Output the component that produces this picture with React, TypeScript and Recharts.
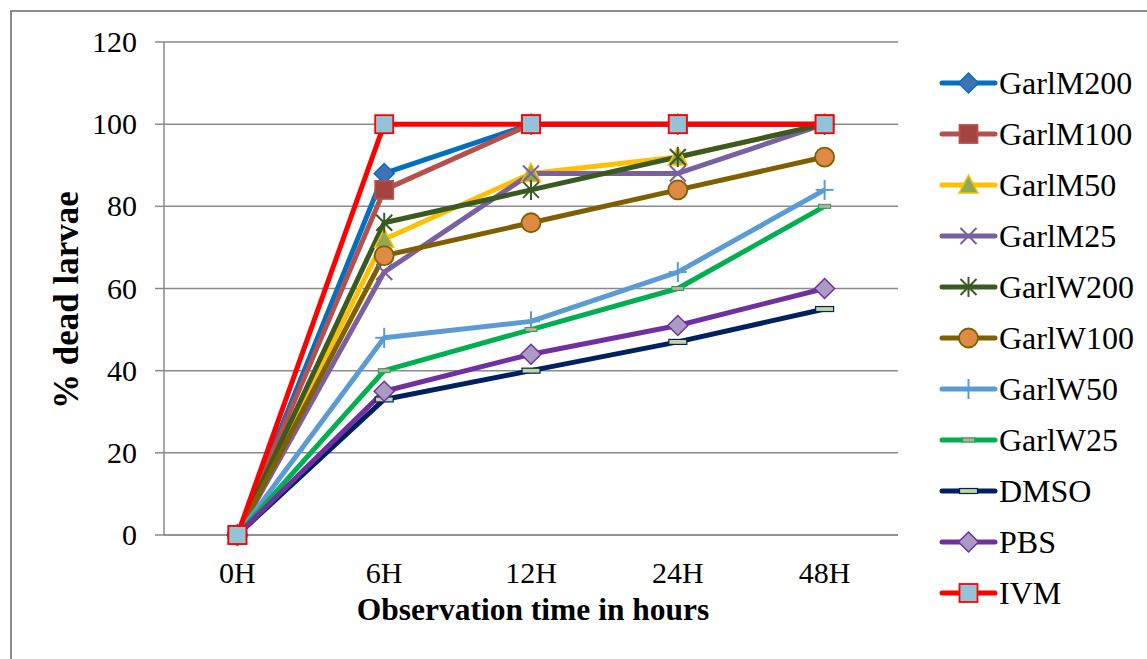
import React from 'react';
import { LineChart, Line, XAxis, YAxis, CartesianGrid, Label } from 'recharts';

// Observation times (categories)
const hours = ['0H', '6H', '12H', '24H', '48H'];

// % dead larvae per treatment
const garlM200 = [0, 88, 100, 100, 100];
const garlM100 = [0, 84, 100, 100, 100];
const garlM50 = [0, 72, 88, 92, 100];
const garlM25 = [0, 64, 88, 88, 100];
const garlW200 = [0, 76, 84, 92, 100];
const garlW100 = [0, 68, 76, 84, 92];
const garlW50 = [0, 48, 52, 64, 84];
const garlW25 = [0, 40, 50, 60, 80];
const dmso = [0, 33, 40, 47, 55];
const pbs = [0, 35, 44, 51, 60];
const ivm = [0, 100, 100, 100, 100];

const yTicks = [0, 20, 40, 60, 80, 100, 120];

type MarkerKind = 'diamond' | 'square' | 'triangle' | 'x' | 'star' | 'circle' | 'plus' | 'dash' | 'longdash';

interface Series {
  key: string;
  values: number[];
  color: string;
  marker: MarkerKind;
  fill: string;
  stroke: string;
}

const series: Series[] = [
  { key: 'GarlM200', values: garlM200, color: '#0070C0', marker: 'diamond', fill: '#4073B4', stroke: '#0070C0' },
  { key: 'GarlM100', values: garlM100, color: '#B5504D', marker: 'square', fill: '#A5433F', stroke: '#B5504D' },
  { key: 'GarlM50', values: garlM50, color: '#FFC000', marker: 'triangle', fill: '#8FAA52', stroke: '#FFC000' },
  { key: 'GarlM25', values: garlM25, color: '#7A60A0', marker: 'x', fill: 'none', stroke: '#7A60A0' },
  { key: 'GarlW200', values: garlW200, color: '#3B5A22', marker: 'star', fill: 'none', stroke: '#3B5A22' },
  { key: 'GarlW100', values: garlW100, color: '#7F6000', marker: 'circle', fill: '#DE8A45', stroke: '#7F6000' },
  { key: 'GarlW50', values: garlW50, color: '#5B9BD5', marker: 'plus', fill: 'none', stroke: '#5B9BD5' },
  { key: 'GarlW25', values: garlW25, color: '#00B050', marker: 'dash', fill: '#D0A3A0', stroke: '#00B050' },
  { key: 'DMSO', values: dmso, color: '#002060', marker: 'longdash', fill: '#C4D79B', stroke: '#002060' },
  { key: 'PBS', values: pbs, color: '#7030A0', marker: 'diamond', fill: '#A99BC4', stroke: '#7030A0' },
  { key: 'IVM', values: ivm, color: '#FF0000', marker: 'square', fill: '#93C3D6', stroke: '#FF0000' },
];

const data = hours.map((h, i) => {
  const row: Record<string, string | number> = { hour: h };
  series.forEach((s) => {
    row[s.key] = s.values[i];
  });
  return row;
});

const FONT = '"Liberation Serif", "Times New Roman", Times, serif';
const GRID = '#8A8A8A';

function Marker({ kind, cx, cy, fill, stroke }: { kind: MarkerKind; cx: number; cy: number; fill: string; stroke: string }) {
  switch (kind) {
    case 'diamond':
      return (
        <polygon
          points={`${cx},${cy - 10} ${cx + 10},${cy} ${cx},${cy + 10} ${cx - 10},${cy}`}
          fill={fill}
          stroke={stroke}
          strokeWidth={1.5}
        />
      );
    case 'square':
      return <rect x={cx - 9} y={cy - 9} width={18} height={18} fill={fill} stroke={stroke} strokeWidth={1.8} />;
    case 'triangle':
      return (
        <polygon
          points={`${cx},${cy - 10} ${cx + 9.5},${cy + 8} ${cx - 9.5},${cy + 8}`}
          fill={fill}
          stroke={stroke}
          strokeWidth={1.5}
        />
      );
    case 'x':
      return (
        <g stroke={stroke} strokeWidth={2}>
          <line x1={cx - 8} y1={cy - 8} x2={cx + 8} y2={cy + 8} />
          <line x1={cx - 8} y1={cy + 8} x2={cx + 8} y2={cy - 8} />
        </g>
      );
    case 'star':
      return (
        <g stroke={stroke} strokeWidth={2}>
          <line x1={cx - 8} y1={cy - 8} x2={cx + 8} y2={cy + 8} />
          <line x1={cx - 8} y1={cy + 8} x2={cx + 8} y2={cy - 8} />
          <line x1={cx} y1={cy - 10} x2={cx} y2={cy + 10} />
        </g>
      );
    case 'circle':
      return <circle cx={cx} cy={cy} r={9.5} fill={fill} stroke={stroke} strokeWidth={1.8} />;
    case 'plus':
      return (
        <g stroke={stroke} strokeWidth={2}>
          <line x1={cx} y1={cy - 10} x2={cx} y2={cy + 10} />
          <line x1={cx - 9} y1={cy} x2={cx + 9} y2={cy} />
        </g>
      );
    case 'dash':
      return <rect x={cx - 6} y={cy - 2} width={12} height={4} fill={fill} stroke={stroke} strokeWidth={1} />;
    case 'longdash':
      return <rect x={cx - 9} y={cy - 2.5} width={18} height={5} fill={fill} stroke={stroke} strokeWidth={1.2} />;
    default:
      return null;
  }
}

// Series key drawn beside the plot
function SeriesKey() {
  return (
    <div
      style={{
        position: 'absolute',
        left: 938,
        top: 57,
        fontFamily: FONT,
        fontSize: 32,
        color: '#000',
      }}
    >
      {series.map((s) => (
        <div key={s.key} style={{ height: 51, display: 'flex', alignItems: 'center' }}>
          <svg width={61} height={30} style={{ display: 'block' }}>
            <line x1={4} y1={15} x2={57} y2={15} stroke={s.color} strokeWidth={5} strokeLinecap="round" />
            <Marker kind={s.marker} cx={30.5} cy={15} fill={s.fill} stroke={s.stroke} />
          </svg>
          <span style={{ lineHeight: '32px', whiteSpace: 'nowrap' }}>{s.key}</span>
        </div>
      ))}
    </div>
  );
}

const XTick = (props: any) => {
  const { x, y, payload } = props;
  return (
    <text x={x} y={y + 48} textAnchor="middle" fontFamily={FONT} fontSize={30} fill="#000">
      {payload.value}
    </text>
  );
};

const YTick = (props: any) => {
  const { x, y, payload } = props;
  return (
    <text x={x} y={y + 10} textAnchor="end" fontFamily={FONT} fontSize={30} fill="#000">
      {payload.value}
    </text>
  );
};

export default function App() {
  return (
    <div style={{ position: 'absolute', left: 0, top: 0, width: 1147, height: 659, overflow: 'hidden', background: '#fff' }}>
      <div
        style={{
          position: 'absolute',
          left: 10,
          top: 10,
          width: 1200,
          height: 700,
          border: '2px solid #8C8C8C',
          boxSizing: 'border-box',
        }}
      />
      <div style={{ position: 'absolute', left: 0, top: 0 }}>
        <LineChart width={1147} height={659} data={data} margin={{ top: 42, right: 249, bottom: 64, left: 104 }}>
          <CartesianGrid vertical={false} stroke={GRID} strokeWidth={1.5} />
          <XAxis
            dataKey="hour"
            height={60}
            padding={{ left: 73.4, right: 73.4 }}
            tickLine={false}
            tickSize={0}
            tickMargin={0}
            axisLine={{ stroke: GRID, strokeWidth: 1.5 }}
            tick={<XTick />}
            interval={0}
          >
            <Label
              content={() => (
                <text x={533} y={620} textAnchor="middle" fontFamily={FONT} fontSize={31.5} fontWeight="bold" fill="#000">
                  Observation time in hours
                </text>
              )}
            />
          </XAxis>
          <YAxis
            width={60}
            domain={[0, 120]}
            ticks={yTicks}
            interval={0}
            tickSize={9}
            tickMargin={18}
            tickLine={{ stroke: GRID, strokeWidth: 1.5 }}
            axisLine={{ stroke: GRID, strokeWidth: 1.5 }}
            tick={<YTick />}
          >
            <Label
              content={() => (
                <text
                  x={78}
                  y={300}
                  transform="rotate(-90 78 300)"
                  textAnchor="middle"
                  fontFamily={FONT}
                  fontSize={35}
                  fontWeight="bold"
                  fill="#000"
                >
                  % dead larvae
                </text>
              )}
            />
          </YAxis>
          {series.map((s) => (
            <Line
              key={s.key}
              type="linear"
              dataKey={s.key}
              name={s.key}
              stroke={s.color}
              strokeWidth={5}
              strokeLinejoin="round"
              isAnimationActive={false}
              activeDot={false}
              dot={(p: any) => (
                <Marker key={`${s.key}-${p.index}`} kind={s.marker} cx={p.cx} cy={p.cy} fill={s.fill} stroke={s.stroke} />
              )}
            />
          ))}
        </LineChart>
      </div>
      <SeriesKey />
    </div>
  );
}
